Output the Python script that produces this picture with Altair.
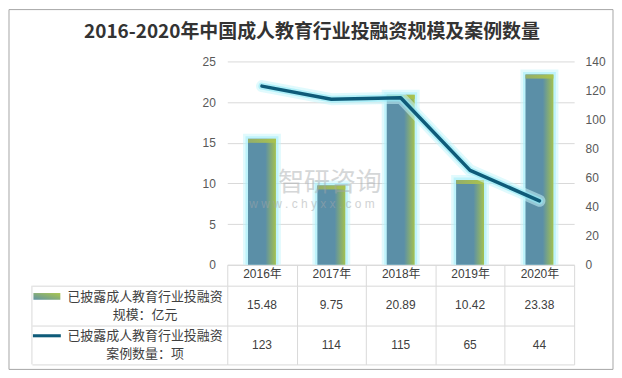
import altair as alt
import pandas as pd

# ---------------- data ----------------
years = ["2016年", "2017年", "2018年", "2019年", "2020年"]
amount = [15.48, 9.75, 20.89, 10.42, 23.38]
cases = [123, 114, 115, 65, 44]
amount_text = ["15.48", "9.75", "20.89", "10.42", "23.38"]
cases_text = ["123", "114", "115", "65", "44"]
series = ["已披露成人教育行业投融资规模：亿元", "已披露成人教育行业投融资案例数量：项"]
title_text = "2016-2020年中国成人教育行业投融资规模及案例数量"
left_ticks = [0, 5, 10, 15, 20, 25]
right_ticks = [0, 20, 40, 60, 80, 100, 120, 140]
watermark = ["智研咨询", "w w w . c h y x x . c o m"]

df = pd.DataFrame({"year": years, "amount": amount, "cases": cases})
table = pd.DataFrame({
    "year": years * 2,
    "row": [series[0]] * 5 + [series[1]] * 5,
    "text": amount_text + cases_text,
})

# ---------------- style ----------------
W, H, TH = 348, 204, 79
FONT = "Liberation Sans, Noto Sans CJK SC"
CJK = "Noto Sans CJK SC"
GRID = "#d9d9d9"
BAR = "#5b8fa7"
LINE = "#0e5b79"

bar_grad = alt.LinearGradient(
    gradient="linear",
    stops=[alt.GradientStop(color=BAR, offset=0),
           alt.GradientStop(color=BAR, offset=0.62),
           alt.GradientStop(color="#a4c150", offset=1)],
    x1=0, x2=1, y1=0, y2=0)
top_grad = alt.LinearGradient(
    gradient="linear",
    stops=[alt.GradientStop(color="#93ae6c", offset=0),
           alt.GradientStop(color="#aac34c", offset=1)],
    x1=0, x2=1, y1=0, y2=0)
swatch_grad = alt.LinearGradient(
    gradient="linear",
    stops=[alt.GradientStop(color="#6193a6", offset=0),
           alt.GradientStop(color="#a9c64c", offset=1)],
    x1=0, x2=1, y1=1, y2=0)

xscale = alt.Scale(domain=years, paddingInner=0, paddingOuter=0)
x_axis = alt.Axis(title=None, domain=True, domainColor=GRID, ticks=True,
                  tickBand="extent", tickSize=21, tickColor=GRID,
                  labelPadding=-17, labelFontSize=12, labelColor="#404040",
                  labelFont=FONT, labelAngle=0, grid=False)
X = alt.X("year:N", sort=years, scale=xscale, axis=x_axis)

yl_axis = alt.Axis(values=left_ticks, title=None, orient="left", ticks=False,
                   domain=False, grid=True, gridColor=GRID, labelPadding=12,
                   labelFontSize=12, labelColor="#595959", labelFont=FONT)
YL = alt.Y("amount:Q", scale=alt.Scale(domain=[0, 25], nice=False), axis=yl_axis)

yr_axis = alt.Axis(values=right_ticks, title=None, orient="right", ticks=False,
                   domain=False, grid=False, labelPadding=11,
                   labelFontSize=12, labelColor="#595959", labelFont=FONT)
YR = alt.Y("cases:Q", scale=alt.Scale(domain=[0, 140], nice=False), axis=yr_axis)

base = alt.Chart(df)
glow1 = base.mark_bar(size=28, fill="transparent", stroke="#c4f6fc",
                      strokeWidth=10, strokeOpacity=0.5, clip=True).encode(X, YL)
glow2 = base.mark_bar(size=28, fill="transparent", stroke="#a6effa",
                      strokeWidth=5, strokeOpacity=0.6, clip=True).encode(X, YL)
bars = base.mark_bar(size=28, fill=bar_grad).encode(X, YL)
bar_tops = base.mark_tick(size=28, thickness=4, yOffset=2, fill=top_grad,
                          opacity=1).encode(X, YL)

wm1 = alt.Chart(pd.DataFrame({"t": [watermark[0]]})).mark_text(
    font=CJK, fontSize=26, color="#a3a7aa", opacity=0.45
).encode(text="t:N", x=alt.value(103), y=alt.value(122))
wm2 = alt.Chart(pd.DataFrame({"t": [watermark[1]]})).mark_text(
    font=FONT, fontSize=12, color="#a3a7aa", opacity=0.5
).encode(text="t:N", x=alt.value(85), y=alt.value(143))

bar_group = alt.layer(glow1, glow2, bars, bar_tops, wm1, wm2)

lglow1 = base.mark_line(color="#c6f6fc", strokeWidth=12, opacity=0.55,
                        strokeCap="round", strokeJoin="round").encode(X, YR)
lglow2 = base.mark_line(color="#8fe9f7", strokeWidth=7, opacity=0.6,
                        strokeCap="round", strokeJoin="round").encode(X, YR)
line = base.mark_line(color=LINE, strokeWidth=3.5,
                      strokeCap="round", strokeJoin="round").encode(X, YR)
line_group = alt.layer(lglow1, lglow2, line)

top = alt.layer(bar_group, line_group).resolve_scale(y="independent").properties(
    width=W, height=H,
    title=alt.TitleParams(text=title_text, anchor="middle", frame="group",
                          dx=-89, offset=14, fontSize=19, fontWeight="bold",
                          font=CJK, color="#333333"))

# ---------------- data table ----------------
Xt = alt.X("year:N", sort=years, scale=xscale,
           axis=alt.Axis(title=None, grid=True, gridColor=GRID, tickBand="extent",
                         ticks=False, labels=False, domain=False))
Yt = alt.Y("row:N", sort=series,
           scale=alt.Scale(domain=series, paddingInner=0, paddingOuter=0),
           axis=alt.Axis(title=None, grid=True, gridColor=GRID, tickBand="extent",
                         ticks=True, tickSize=196, tickColor=GRID, domain=False,
                         labelExpr="[slice(datum.label, 0, 12), slice(datum.label, 12)]",
                         labelAlign="center", labelBaseline="middle",
                         labelOffset=-9,
                         labelPadding=-113, labelLineHeight=18, labelFontSize=13,
                         labelColor="#404040", labelFont=CJK, labelLimit=0))

values = alt.Chart(table).mark_text(fontSize=12, font=FONT, color="#404040").encode(
    Xt, Yt, text="text:N")

legend1 = pd.DataFrame({"row": [series[0]]})
legend2 = pd.DataFrame({"row": [series[1]]})
sw1 = alt.Chart(legend1).mark_point(
    shape="M-1,-0.25H1V0.25H-1Z", size=729, filled=True, fill=swatch_grad,
    opacity=1, strokeWidth=0, yOffset=-9).encode(x=alt.value(-181), y=Yt)
sw2 = alt.Chart(legend2).mark_point(
    shape="M-1,-0.11H1V0.11H-1Z", size=784, filled=True, fill=LINE,
    opacity=1, strokeWidth=0, yOffset=-9).encode(x=alt.value(-181), y=Yt)

frame_df = pd.DataFrame({"a": [0]})
left_border = alt.Chart(frame_df).mark_rule(color=GRID).encode(
    x=alt.value(-196), y=alt.value(0), y2=alt.value(TH))
frame = alt.Chart(frame_df).mark_rect(fill="transparent", stroke="#a6a6a6",
                                      strokeWidth=1).encode(
    x=alt.value(-219), x2=alt.value(387), y=alt.value(-277), y2=alt.value(84))

tbl = alt.layer(frame, left_border, values, sw1, sw2).properties(width=W, height=TH)

chart = alt.vconcat(top, tbl, spacing=21, bounds="flush").properties(
    padding=0).configure_view(strokeWidth=0)

chart.save("out.html", embed_options={"renderer": "svg", "actions": False})
